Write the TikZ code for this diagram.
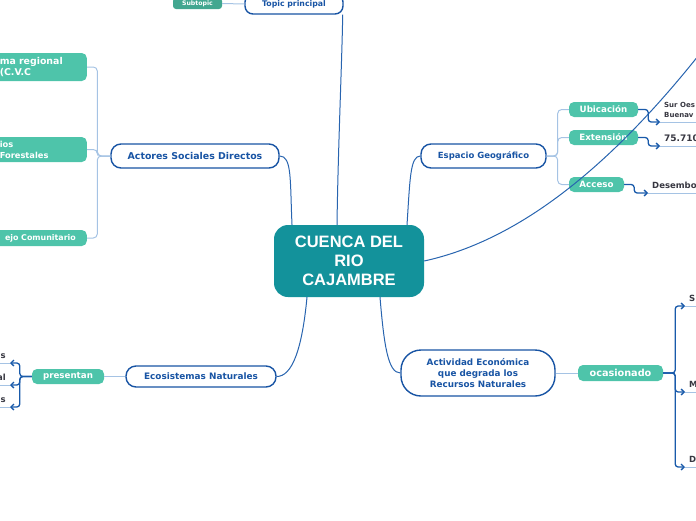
\documentclass[tikz,border=0pt]{standalone}
\usepackage{fontspec}
\setmainfont{DejaVu Sans}
\newfontfamily\titlefont{Liberation Sans}
\definecolor{cuencateal}{RGB}{19, 146, 155}
\definecolor{leafgreen}{RGB}{78, 196, 170}
\definecolor{nodeblue}{RGB}{24, 84, 164}
\definecolor{mainblue}{RGB}{40, 100, 175}
\definecolor{paleblue}{RGB}{165, 195, 228}
\definecolor{arrowblue}{RGB}{25, 90, 170}
\definecolor{darktext}{RGB}{55, 55, 65}
\usetikzlibrary{arrows.meta}

\begin{document}
\begin{tikzpicture}[
        x=1pt, y=-1pt,
        topicbox/.style={draw=nodeblue, line width=1.4pt, fill=white,
                    rounded corners=10pt, text=nodeblue, align=center,
                    inner sep=0pt, font=\bfseries\fontsize{8.5}{11}\selectfont},
        leafbox/.style={fill=leafgreen, rounded corners=5pt, text=white,
                    align=center, inner sep=0pt,
                    font=\bfseries\fontsize{8.7}{11}\selectfont},
        note/.style={text=darktext, inner xsep=4pt, inner ysep=4pt, align=left,
                    font=\bfseries\fontsize{8.5}{10}\selectfont},
        mainlink/.style={draw=mainblue, line width=1pt},
        palelink/.style={draw=paleblue, line width=1pt},
        arrowlink/.style={draw=arrowblue, line width=1.3pt, rounded corners=3pt,
                    -{Straight Barb[length=3pt, width=6pt]}}
      ]
        \useasboundingbox (0,0) rectangle (696,520);

        \node[fill=cuencateal, rounded corners=14pt, minimum width=150pt,
              minimum height=72pt, text=white, align=center, inner sep=0pt,
              font=\titlefont\bfseries\fontsize{16.5}{19}\selectfont]
              (cuenca) at (349,261) {CUENCA DEL\\RIO\\CAJAMBRE};

        \node[topicbox, minimum width=98pt, minimum height=20pt, rounded corners=8pt,
              font=\bfseries\fontsize{7.8}{10}\selectfont] (topic) at (294,4)
              {Topic principal};
        \node[leafbox, fill=leafgreen!85!black, rounded corners=3pt,
              minimum width=49pt, minimum height=11pt,
              font=\bfseries\fontsize{6.2}{8}\selectfont] (subtopic) at (197.5,3.5)
              {Subtopic};

        \node[topicbox, minimum width=168pt, minimum height=24pt,
              font=\bfseries\fontsize{9.4}{11}\selectfont] (actores) at (195,156)
              {Actores Sociales Directos};
        \node[leafbox, anchor=east, text width=67pt, align=left, inner xsep=20pt,
              minimum height=28pt, font=\bfseries\fontsize{9.4}{11}\selectfont]
              (cvc) at (87,67) {ma regional\\(C.V.C};
        \node[leafbox, anchor=east, text width=67pt, align=left, inner xsep=20pt,
              minimum height=25pt, font=\bfseries\fontsize{8.3}{11}\selectfont]
              (forestales) at (87,149.5) {ios\\Forestales};
        \node[leafbox, anchor=east, inner xsep=11pt, minimum height=16pt,
              font=\bfseries\fontsize{7.9}{10}\selectfont]
              (consejo) at (87,238) {ejo Comunitario};

        \node[topicbox, minimum width=125pt, minimum height=24pt] (espacio)
              at (483.5,156) {Espacio Geográfico};
        \node[leafbox, minimum width=69pt, minimum height=15pt] (ubicacion)
              at (603.5,109.5) {Ubicación};
        \node[leafbox, minimum width=69pt, minimum height=15pt] (extension)
              at (603.5,137.5) {Extensión};
        \node[leafbox, minimum width=55pt, minimum height=15pt] (acceso)
              at (596.5,184.5) {Acceso};
        \node[note, anchor=south west, font=\bfseries\fontsize{7}{10}\selectfont]
              (surnote) at (660,122) {Sur Oes\\Buenav};
        \node[note, anchor=south west, font=\bfseries\fontsize{9}{11}\selectfont]
              (extnote) at (660,146) {75.710};
        \node[note, anchor=south west] (accnote) at (648,193) {Desembo};

        \node[topicbox, minimum width=150pt, minimum height=21pt,
              font=\bfseries\fontsize{8.9}{11}\selectfont] (ecosistemas)
              at (201,376.5) {Ecosistemas Naturales};
        \node[leafbox, minimum width=72pt, minimum height=15pt] (presentan)
              at (68,376.5) {presentan};
        \node[note, anchor=south east] (ecoA) at (10,363) {s};
        \node[note, anchor=south east] (ecoB) at (10,385) {al};
        \node[note, anchor=south east] (ecoC) at (10,407) {s};

        \node[topicbox, minimum width=154pt, minimum height=46pt,
              rounded corners=20pt, font=\bfseries\fontsize{8.8}{11}\selectfont]
              (actividad) at (478,373)
              {Actividad Económica\\que degrada los\\Recursos Naturales};
        \node[leafbox, minimum width=85pt, minimum height=16pt,
              font=\bfseries\fontsize{9.7}{11}\selectfont] (ocasionado)
              at (620.5,373) {ocasionado};
        \node[note, anchor=south west] (danoS) at (685,306) {S};
        \node[note, anchor=south west] (danoM) at (685,392) {M};
        \node[note, anchor=south west] (danoD) at (685,467) {D};

        \coordinate (offpage) at (706,46);

        \draw[mainlink] ([xshift=-12pt]cuenca.north) .. controls (338,150)
              and (342,60) .. ([xshift=-1pt]topic.south east);
        \draw[mainlink] ([xshift=-57pt]cuenca.north) .. controls (290,180)
              and (292,156) .. (actores.east);
        \draw[mainlink] ([xshift=58pt]cuenca.north) .. controls (410,180)
              and (410,156) .. (espacio.west);
        \draw[mainlink] ([xshift=-42pt]cuenca.south) .. controls (302,350)
              and (292,376.5) .. (ecosistemas.east);
        \draw[mainlink] ([xshift=31pt]cuenca.south) .. controls (384,345)
              and (388,373) .. (actividad.west);
        \draw[mainlink] (cuenca.east) .. controls (520,240)
              and (612,166) .. (offpage);

        \draw[palelink] (subtopic.east) -- (topic.west);
        \draw[palelink, rounded corners=4pt] (actores.west) -- ++(-13,0) |- (cvc.east);
        \draw[palelink, rounded corners=4pt] (actores.west) -- ++(-13,0) |- (forestales.east);
        \draw[palelink, rounded corners=4pt] (actores.west) -- ++(-13,0) |- (consejo.east);
        \draw[palelink, rounded corners=4pt] (espacio.east) -- ++(11,0) |- (ubicacion.west);
        \draw[palelink, rounded corners=4pt] (espacio.east) -- ++(11,0) |- (extension.west);
        \draw[palelink, rounded corners=4pt] (espacio.east) -- ++(11,0) |- (acceso.west);
        \draw[palelink] (ecosistemas.west) -- (presentan.east);
        \draw[palelink] (actividad.east) -- (ocasionado.west);

        \draw[palelink] (surnote.south west) -- ++(60,0);
        \draw[palelink] (extnote.south west) -- ++(60,0);
        \draw[palelink] (accnote.south west) -- ++(60,0);
        \draw[palelink] (ecoA.south east) -- ++(-20,0);
        \draw[palelink] (ecoB.south east) -- ++(-20,0);
        \draw[palelink] (ecoC.south east) -- ++(-20,0);
        \draw[palelink] (danoS.south west) -- ++(30,0);
        \draw[palelink] (danoM.south west) -- ++(30,0);
        \draw[palelink] (danoD.south west) -- ++(30,0);

        \draw[arrowlink] (ubicacion.east) -- ++(10,0) |- (surnote.south west);
        \draw[arrowlink] (extension.east) -- ++(10,0) |- (extnote.south west);
        \draw[arrowlink] (acceso.east) -- ++(10,0) |- (accnote.south west);
        \draw[arrowlink] (presentan.west) -- ++(-12,0) |- (ecoA.south east);
        \draw[arrowlink] (presentan.west) -- ++(-12,0) |- (ecoB.south east);
        \draw[arrowlink] (presentan.west) -- ++(-12,0) |- (ecoC.south east);
        \draw[arrowlink] (ocasionado.east) -- ++(12,0) |- (danoS.south west);
        \draw[arrowlink] (ocasionado.east) -- ++(12,0) |- (danoM.south west);
        \draw[arrowlink] (ocasionado.east) -- ++(12,0) |- (danoD.south west);
      \end{tikzpicture}
\end{document}
